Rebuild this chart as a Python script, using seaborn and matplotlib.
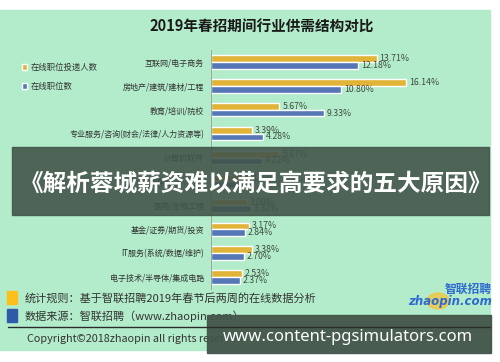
import matplotlib
matplotlib.use("Agg")
import matplotlib.pyplot as plt
import matplotlib.patches as mpatches
import pandas as pd
import seaborn as sns

categories = [
    "互联网/电子商务",
    "房地产/建筑/建材/工程",
    "教育/培训/院校",
    "专业服务/咨询(财会/法律/人力资源等)",
    "计算机软件",
    "汽车/生产/制造",
    "医药/生物工程",
    "基金/证券/期货/投资",
    "IT服务(系统/数据/维护)",
    "电子技术/半导体/集成电路",
]
applicants = [13.71, 16.14, 5.67, 3.39, 5.67, 3.10, 3.00, 3.17, 3.38, 2.53]
positions = [12.18, 10.80, 9.33, 4.28, 4.22, 3.60, 3.32, 2.84, 2.70, 2.37]
series_names = ["在线职位投递人数", "在线职位数"]

W, H = 500, 362
BG = "#b2ecca"
YELLOW = "#fdc01a"
BLUE = "#4572c6"
FONT = ["Noto Sans CJK SC", "DejaVu Sans"]

sns.set_theme(style="white")
plt.rcParams["font.family"] = FONT

tidy = pd.DataFrame({
    "category": categories * 2,
    "value": applicants + positions,
    "series": [series_names[0]] * len(categories) + [series_names[1]] * len(categories),
})


def fx(px):
    return px / W


def fy(py):
    return 1 - py / H


fig = plt.figure(figsize=(5.0, 3.62), dpi=100, facecolor="white")
fig.patches.append(mpatches.Rectangle((0, fy(350)), fx(490), fy(10) - fy(350),
                                      transform=fig.transFigure, color=BG, zorder=-5))

ax = fig.add_axes([fx(211), fy(289), fx(490) - fx(211), fy(50) - fy(289)])
ax.set_zorder(1)
ax.set_facecolor("none")
sns.barplot(data=tidy, y="category", x="value", hue="series", orient="h",
            palette=[YELLOW, BLUE], width=0.56, ax=ax, legend=True)
ax.set_xlim(0, (490 - 211) / 12.08)
ax.set_ylim(9.5, -0.5)
for cont in ax.containers:
    ax.bar_label(cont, labels=[f"{v:.2f}%" for v in cont.datavalues],
                 padding=2, fontsize=6.3, color="#3d4b40")
ax.set_xlabel("")
ax.set_ylabel("")
ax.set_xticks([])
ax.tick_params(axis="y", length=0, labelsize=5.8, labelcolor="#333333", pad=5)
ax.set_yticks([i - 0.5 for i in range(11)], minor=True)
ax.tick_params(axis="y", which="minor", length=3, color="#9aa89e", width=0.6)
for side in ["top", "right", "bottom"]:
    ax.spines[side].set_visible(False)
ax.spines["left"].set_color("#9aa89e")
ax.spines["left"].set_linewidth(0.7)

handles, labels = ax.get_legend_handles_labels()
ax.get_legend().remove()
fig.legend(handles, labels, loc="upper left", bbox_to_anchor=(fx(14), fy(55)),
           frameon=False, fontsize=6, handlelength=0.7, handleheight=0.7,
           handletextpad=0.4, labelspacing=1.3, labelcolor="#333333")

fig.text(fx(262), fy(27), "2019年春招期间行业供需结构对比", ha="center", va="center",
         fontsize=10.5, fontweight="bold", color="#1a1a1a")

# footer
fig.patches.append(mpatches.Rectangle((fx(7), fy(304)), fx(10), fy(291) - fy(304),
                                      transform=fig.transFigure, color=YELLOW, zorder=2))
fig.patches.append(mpatches.Rectangle((fx(7), fy(322)), fx(10), fy(309) - fy(322),
                                      transform=fig.transFigure, color="#2f5aa8", zorder=2))
fig.text(fx(25), fy(298), "统计规则：基于智联招聘2019年春节后两周的在线数据分析",
         ha="left", va="center", fontsize=8.0, color="#333333")
fig.text(fx(25), fy(316), "数据来源：智联招聘（www.zhaopin.com）",
         ha="left", va="center", fontsize=8.0, color="#333333")
fig.text(fx(27), fy(339), "Copyright©2018zhaopin all rights reserved",
         ha="left", va="center", fontsize=7.8, color="#333333")

# logo
fig.patches.append(mpatches.Circle((fx(438), fy(301)), 0.022, transform=fig.transFigure,
                                   color="#f5c33b", alpha=0.75, zorder=2))
fig.text(fx(492), fy(289), "智联招聘", ha="right", va="center", fontsize=8.5,
         fontweight="bold", style="italic", color="#2f6ad0")
fig.text(fx(492), fy(302), "zhaopin.com", ha="right", va="center", fontsize=8.5,
         fontweight="bold", style="italic", color="#2f6ad0", family="DejaVu Sans")

# overlay banners
fig.patches.append(mpatches.Rectangle((fx(12), fy(215)), fx(489) - fx(12), fy(147) - fy(215),
                                      transform=fig.transFigure, color="#42554a",
                                      alpha=0.9, zorder=5))
fig.text(fx(256), fy(184), "《解析蓉城薪资难以满足高要求的五大原因》", ha="center",
         va="center", fontsize=17, fontweight="bold", color="white", zorder=6)

fig.patches.append(mpatches.Rectangle((fx(207), fy(353)), fx(491) - fx(207), fy(315) - fy(353),
                                      transform=fig.transFigure, color="#42554a",
                                      alpha=0.95, zorder=5))
fig.lines.append(plt.Line2D([fx(8), fx(490)], [fy(327), fy(327)], transform=fig.transFigure,
                            color="#2b2b2b", lw=1.0, zorder=7))
fig.text(fx(348), fy(337), "www.content-pgsimulators.com", ha="center", va="center",
         fontsize=12, fontweight="bold", color="white", family="Noto Sans", zorder=8)

fig.savefig("out.png", dpi=100, facecolor="white")
plt.close(fig)
